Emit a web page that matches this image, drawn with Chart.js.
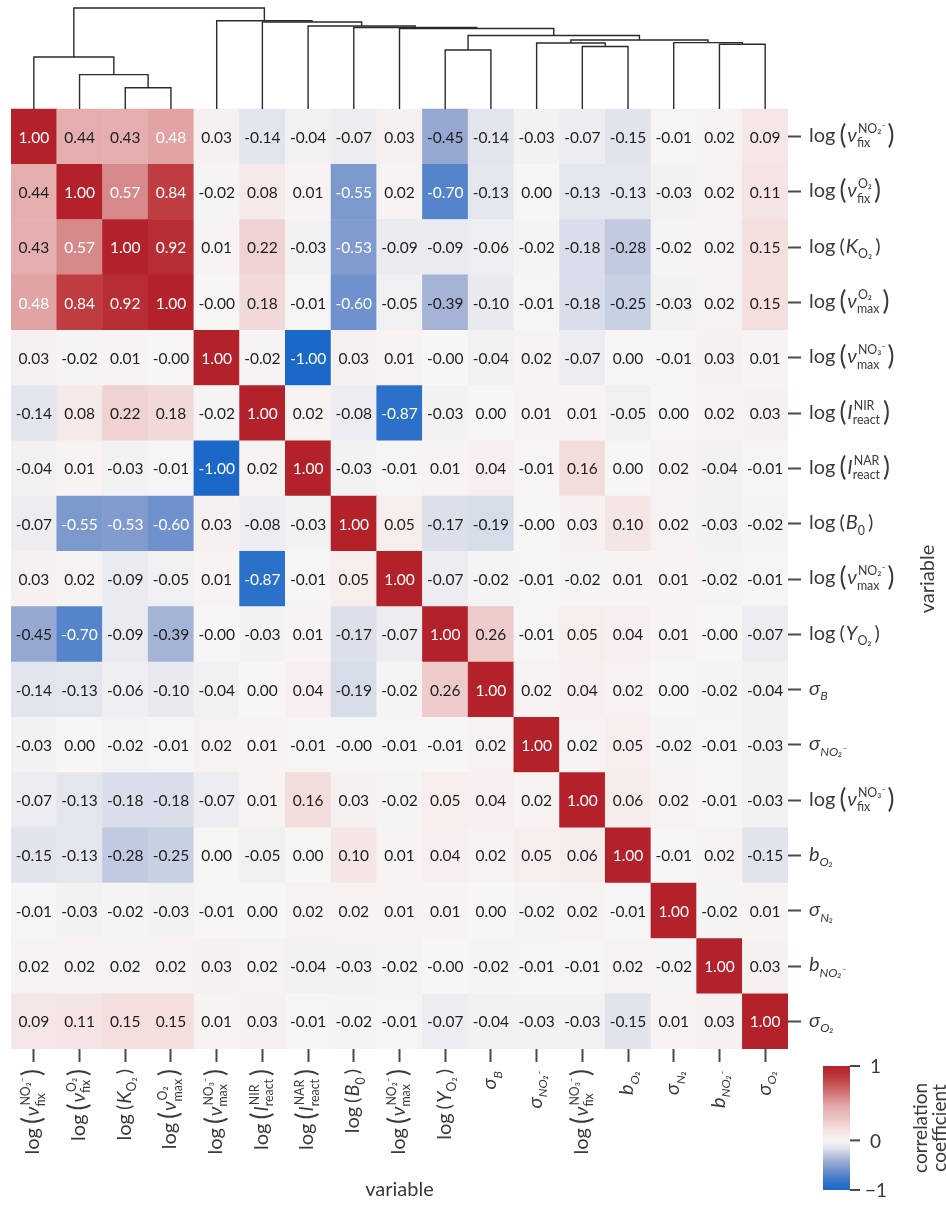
<!DOCTYPE html>
<html>
<head>
<meta charset="utf-8">
<script src="https://cdn.jsdelivr.net/npm/chart.js@4.4.1/dist/chart.umd.min.js"></script>
<style>
html, body { margin: 0; padding: 0; background: #fff; }
#wrap { width: 946px; height: 1206px; }
</style>
</head>
<body>
<div id="wrap"><canvas id="myChart" width="946" height="1206"></canvas></div>
<script>
// variable names, in the clustered order (rows top->bottom, columns left->right)
const varLabels = [
  ['log', '(', {v: 'ν', sub: 'fix', sup: 'NO₂⁻'}, ')'],
  ['log', '(', {v: 'ν', sub: 'fix', sup: 'O₂'}, ')'],
  ['log', '(', {v: 'K', sub: 'O₂'}, ')'],
  ['log', '(', {v: 'ν', sub: 'max', sup: 'O₂'}, ')'],
  ['log', '(', {v: 'ν', sub: 'max', sup: 'NO₃⁻'}, ')'],
  ['log', '(', {v: 'I', sub: 'react', sup: 'NIR'}, ')'],
  ['log', '(', {v: 'I', sub: 'react', sup: 'NAR'}, ')'],
  ['log', '(', {v: 'B', sub: '0'}, ')'],
  ['log', '(', {v: 'ν', sub: 'max', sup: 'NO₂⁻'}, ')'],
  ['log', '(', {v: 'Y', sub: 'O₂'}, ')'],
  [{v: 'σ', sub: 'B', subItalic: true}],
  [{v: 'σ', sub: 'NO₂⁻', subItalic: true}],
  ['log', '(', {v: 'ν', sub: 'fix', sup: 'NO₃⁻'}, ')'],
  [{v: 'b', sub: 'O₂', subItalic: true}],
  [{v: 'σ', sub: 'N₂', subItalic: true}],
  [{v: 'b', sub: 'NO₂⁻', subItalic: true}],
  [{v: 'σ', sub: 'O₂', subItalic: true}]
];

// correlation matrix, one array per row
const r0  = [1.00, 0.44, 0.43, 0.48, 0.03, -0.14, -0.04, -0.07, 0.03, -0.45, -0.14, -0.03, -0.07, -0.15, -0.01, 0.02, 0.09];
const r1  = [0.44, 1.00, 0.57, 0.84, -0.02, 0.08, 0.01, -0.55, 0.02, -0.70, -0.13, 0.00, -0.13, -0.13, -0.03, 0.02, 0.11];
const r2  = [0.43, 0.57, 1.00, 0.92, 0.01, 0.22, -0.03, -0.53, -0.09, -0.09, -0.06, -0.02, -0.18, -0.28, -0.02, 0.02, 0.15];
const r3  = [0.48, 0.84, 0.92, 1.00, -0.00, 0.18, -0.01, -0.60, -0.05, -0.39, -0.10, -0.01, -0.18, -0.25, -0.03, 0.02, 0.15];
const r4  = [0.03, -0.02, 0.01, -0.00, 1.00, -0.02, -1.00, 0.03, 0.01, -0.00, -0.04, 0.02, -0.07, 0.00, -0.01, 0.03, 0.01];
const r5  = [-0.14, 0.08, 0.22, 0.18, -0.02, 1.00, 0.02, -0.08, -0.87, -0.03, 0.00, 0.01, 0.01, -0.05, 0.00, 0.02, 0.03];
const r6  = [-0.04, 0.01, -0.03, -0.01, -1.00, 0.02, 1.00, -0.03, -0.01, 0.01, 0.04, -0.01, 0.16, 0.00, 0.02, -0.04, -0.01];
const r7  = [-0.07, -0.55, -0.53, -0.60, 0.03, -0.08, -0.03, 1.00, 0.05, -0.17, -0.19, -0.00, 0.03, 0.10, 0.02, -0.03, -0.02];
const r8  = [0.03, 0.02, -0.09, -0.05, 0.01, -0.87, -0.01, 0.05, 1.00, -0.07, -0.02, -0.01, -0.02, 0.01, 0.01, -0.02, -0.01];
const r9  = [-0.45, -0.70, -0.09, -0.39, -0.00, -0.03, 0.01, -0.17, -0.07, 1.00, 0.26, -0.01, 0.05, 0.04, 0.01, -0.00, -0.07];
const r10 = [-0.14, -0.13, -0.06, -0.10, -0.04, 0.00, 0.04, -0.19, -0.02, 0.26, 1.00, 0.02, 0.04, 0.02, 0.00, -0.02, -0.04];
const r11 = [-0.03, 0.00, -0.02, -0.01, 0.02, 0.01, -0.01, -0.00, -0.01, -0.01, 0.02, 1.00, 0.02, 0.05, -0.02, -0.01, -0.03];
const r12 = [-0.07, -0.13, -0.18, -0.18, -0.07, 0.01, 0.16, 0.03, -0.02, 0.05, 0.04, 0.02, 1.00, 0.06, 0.02, -0.01, -0.03];
const r13 = [-0.15, -0.13, -0.28, -0.25, 0.00, -0.05, 0.00, 0.10, 0.01, 0.04, 0.02, 0.05, 0.06, 1.00, -0.01, 0.02, -0.15];
const r14 = [-0.01, -0.03, -0.02, -0.03, -0.01, 0.00, 0.02, 0.02, 0.01, 0.01, 0.00, -0.02, 0.02, -0.01, 1.00, -0.02, 0.01];
const r15 = [0.02, 0.02, 0.02, 0.02, 0.03, 0.02, -0.04, -0.03, -0.02, -0.00, -0.02, -0.01, -0.01, 0.02, -0.02, 1.00, 0.03];
const r16 = [0.09, 0.11, 0.15, 0.15, 0.01, 0.03, -0.01, -0.02, -0.01, -0.07, -0.04, -0.03, -0.03, -0.15, 0.01, 0.03, 1.00];
const corrRows = [r0, r1, r2, r3, r4, r5, r6, r7, r8, r9, r10, r11, r12, r13, r14, r15, r16];

// dendrogram merges: [child a, child b, height (root = 1)], new nodes numbered from 17
const linkage = [
  [2, 3, 0.21], [1, 17, 0.34], [0, 18, 0.515], [9, 10, 0.584],
  [12, 13, 0.619], [15, 16, 0.641], [11, 21, 0.653], [14, 22, 0.657],
  [23, 24, 0.683], [20, 25, 0.728], [8, 26, 0.797], [7, 27, 0.807],
  [6, 28, 0.822], [5, 29, 0.861], [4, 30, 0.874], [19, 31, 1.0]
];

const cbTicks = [1, 0, -1];

const FONT = "Lato, 'Noto Sans', sans-serif";
const DENDRO_ROWS = 1.827;  // dendrogram height in row units
const CB_ZERO = 0.6;         // where 0 sits along the colour bar (from top)

const colorStops = [
  [-1.00, [27, 104, 200]],
  [-0.85, [46, 113, 201]],
  [-0.65, [98, 138, 203]],
  [-0.45, [150, 167, 209]],
  [-0.15, [225, 228, 237]],
  [0.00, [248, 245, 245]],
  [0.15, [244, 222, 222]],
  [0.30, [236, 196, 196]],
  [0.45, [228, 172, 172]],
  [0.60, [212, 128, 128]],
  [0.85, [190, 58, 62]],
  [1.00, [179, 33, 42]]
];

function corrColor(v) {
  for (let i = 1; i < colorStops.length; i++) {
    if (v <= colorStops[i][0]) {
      const [v0, c0] = colorStops[i - 1];
      const [v1, c1] = colorStops[i];
      const t = Math.max(0, (v - v0) / (v1 - v0));
      return 'rgb(' + c0.map((a, k) => Math.round(a + (c1[k] - a) * t)).join(',') + ')';
    }
  }
  return 'rgb(' + colorStops[colorStops.length - 1][1].join(',') + ')';
}

function fmt(v) {
  const neg = v < 0 || Object.is(v, -0);
  return (neg ? '-' : '') + Math.abs(v).toFixed(2);
}

// heatmap cells as floating bars
const cells = [];
for (let r = 0; r < corrRows.length; r++) {
  for (let c = 0; c < corrRows[r].length; c++) {
    cells.push({x: c, y: [r - 0.505, r + 0.505], v: corrRows[r][c]});
  }
}

// dendrogram as line datasets
function dy(h) { return -0.5 - h * DENDRO_ROWS; }
const nodeX = [], nodeH = [];
for (let i = 0; i < varLabels.length; i++) { nodeX.push(i); nodeH.push(0); }
const dendroSets = [];
for (const [a, b, h] of linkage) {
  dendroSets.push({
    type: 'line',
    data: [
      {x: nodeX[a], y: dy(nodeH[a])},
      {x: nodeX[a], y: dy(h)},
      {x: nodeX[b], y: dy(h)},
      {x: nodeX[b], y: dy(nodeH[b])}
    ],
    borderColor: '#2a2a2a',
    borderWidth: 1.4,
    pointRadius: 0,
    fill: false,
    tension: 0,
    clip: false
  });
  nodeX.push((nodeX[a] + nodeX[b]) / 2);
  nodeH.push(h);
}

// rich label drawing (italic variable with sub/superscripts)
function richParts(ctx, tokens, size) {
  const tall = tokens.some(t => typeof t === 'object' && t.sub && t.sup);
  const parts = [];
  for (const t of tokens) {
    if (t === '(' || t === ')') {
      const fs = tall ? size * 1.3 : size;
      const shift = tall ? size * 0.1 : 0;
      ctx.font = `${fs}px ${FONT}`;
      const w = ctx.measureText(t).width + 1;
      parts.push({w: w, draw: (x, y) => { ctx.font = `${fs}px ${FONT}`; ctx.fillText(t, x + (t === ')' ? 1 : 0), y + shift); }});
    } else if (typeof t === 'string') {
      ctx.font = `${size}px ${FONT}`;
      const w = ctx.measureText(t).width + size * 0.2;
      parts.push({w: w, draw: (x, y) => { ctx.font = `${size}px ${FONT}`; ctx.fillText(t, x, y); }});
    } else {
      const small = size * 0.62;
      const mainFont = `italic ${size}px ${FONT}`;
      const subFont = `${t.subItalic ? 'italic ' : ''}${small}px ${FONT}`;
      const supFont = `${small}px ${FONT}`;
      ctx.font = mainFont;
      const mw = ctx.measureText(t.v).width;
      let sw = 0, pw = 0;
      if (t.sub) { ctx.font = subFont; sw = ctx.measureText(t.sub).width; }
      if (t.sup) { ctx.font = supFont; pw = ctx.measureText(t.sup).width; }
      parts.push({w: mw + Math.max(sw, pw) + 2, draw: (x, y) => {
        ctx.font = mainFont; ctx.fillText(t.v, x, y);
        if (t.sub) { ctx.font = subFont; ctx.fillText(t.sub, x + mw, y + size * 0.27); }
        if (t.sup) { ctx.font = supFont; ctx.fillText(t.sup, x + mw + 1, y - size * 0.45); }
      }});
    }
  }
  return parts;
}

function drawRich(ctx, tokens, x, y, size, align) {
  const parts = richParts(ctx, tokens, size);
  const total = parts.reduce((s, p) => s + p.w, 0);
  let cx = align === 'right' ? x - total : x;
  for (const p of parts) { p.draw(cx, y); cx += p.w; }
}

const annotate = {
  id: 'annotate',
  afterDraw(chart) {
    const ctx = chart.ctx;
    const xs = chart.scales.x, ys = chart.scales.y;
    ctx.save();

    // numbers in the cells
    const meta = chart.getDatasetMeta(0);
    ctx.font = `15.5px ${FONT}`;
    ctx.textAlign = 'center';
    ctx.textBaseline = 'middle';
    meta.data.forEach((bar, i) => {
      const p = bar.getCenterPoint();
      const v = cells[i].v;
      ctx.fillStyle = Math.abs(v) >= 0.46 ? '#ffffff' : '#1e1e1e';
      ctx.fillText(fmt(v), p.x, p.y + 1);
    });

    // row labels (right) and column labels (bottom)
    ctx.textAlign = 'left';
    ctx.textBaseline = 'alphabetic';
    ctx.fillStyle = '#3a3a3a';
    const ls = 20;
    varLabels.forEach((tokens, i) => {
      drawRich(ctx, tokens, ys.right + 8, ys.getPixelForValue(i) + ls * 0.27, ls, 'left');
      ctx.save();
      ctx.translate(xs.getPixelForValue(i), xs.bottom + 7);
      ctx.rotate(-Math.PI / 2);
      drawRich(ctx, tokens, 0, ls * 0.27, ls, 'right');
      ctx.restore();
    });

    // axis titles
    ctx.font = `20px ${FONT}`;
    ctx.textAlign = 'center';
    ctx.fillText('variable', (xs.left + xs.right) / 2, 1196);
    ctx.save();
    ctx.translate(928, (ys.getPixelForValue(-0.5) + ys.getPixelForValue(16.5)) / 2);
    ctx.rotate(-Math.PI / 2);
    ctx.textBaseline = 'middle';
    ctx.fillText('variable', 0, 0);
    ctx.restore();

    // colour bar
    const cbL = 823, cbR = 850, cbT = 1066, cbB = 1190;
    const grad = ctx.createLinearGradient(0, cbT, 0, cbB);
    for (let k = 0; k <= 40; k++) {
      const f = k / 40;
      const v = f <= CB_ZERO ? 1 - f / CB_ZERO : -(f - CB_ZERO) / (1 - CB_ZERO);
      grad.addColorStop(f, corrColor(v));
    }
    ctx.fillStyle = grad;
    ctx.fillRect(cbL, cbT, cbR - cbL, cbB - cbT);
    ctx.strokeStyle = '#4a4a4a';
    ctx.lineWidth = 2;
    ctx.fillStyle = '#3a3a3a';
    ctx.font = `19px ${FONT}`;
    ctx.textAlign = 'left';
    ctx.textBaseline = 'middle';
    cbTicks.forEach(t => {
      const f = t >= 0 ? (1 - t) * CB_ZERO : CB_ZERO + (-t) * (1 - CB_ZERO);
      const y = cbT + f * (cbB - cbT);
      ctx.beginPath();
      ctx.moveTo(cbR, y);
      ctx.lineTo(cbR + 10, y);
      ctx.stroke();
      ctx.fillText(t < 0 ? '−' + Math.abs(t) : String(t), cbR + (t < 0 ? 15 : 20), y + 1);
    });
    ctx.save();
    ctx.translate(921, (cbT + cbB) / 2);
    ctx.rotate(-Math.PI / 2);
    ctx.textAlign = 'center';
    ctx.font = `19px ${FONT}`;
    ctx.fillText('correlation', 0, 0);
    ctx.fillText('coefficient', 0, 19);
    ctx.restore();

    ctx.restore();
  }
};

const tickAxis = {
  ticks: {display: false},
  grid: {drawOnChartArea: false, drawTicks: true, tickLength: 13, tickWidth: 2, tickColor: '#4a4a4a', offset: false},
  border: {display: false}
};

const ctxEl = document.getElementById('myChart');
new Chart(ctxEl, {
  type: 'bar',
  data: {
    datasets: [{
      type: 'bar',
      data: cells,
      backgroundColor: c => corrColor(c.raw.v),
      borderWidth: 0,
      barPercentage: 1.01,
      categoryPercentage: 1,
      order: 2
    }].concat(dendroSets)
  },
  options: {
    responsive: false,
    animation: false,
    events: [],
    layout: {padding: {left: 11, right: 145, top: 5, bottom: 144}},
    plugins: {
      legend: {display: false},
      tooltip: {enabled: false}
    },
    scales: {
      x: Object.assign({
        type: 'linear',
        position: 'bottom',
        min: -0.5,
        max: 16.5,
        offset: false,
        afterBuildTicks: s => { s.ticks = varLabels.map((_, i) => ({value: i})); }
      }, tickAxis),
      y: Object.assign({
        type: 'linear',
        position: 'right',
        reverse: true,
        min: -0.5 - 1.881,
        max: 16.5,
        afterBuildTicks: s => { s.ticks = varLabels.map((_, i) => ({value: i})); }
      }, tickAxis)
    }
  },
  plugins: [annotate]
});
</script>
</body>
</html>
